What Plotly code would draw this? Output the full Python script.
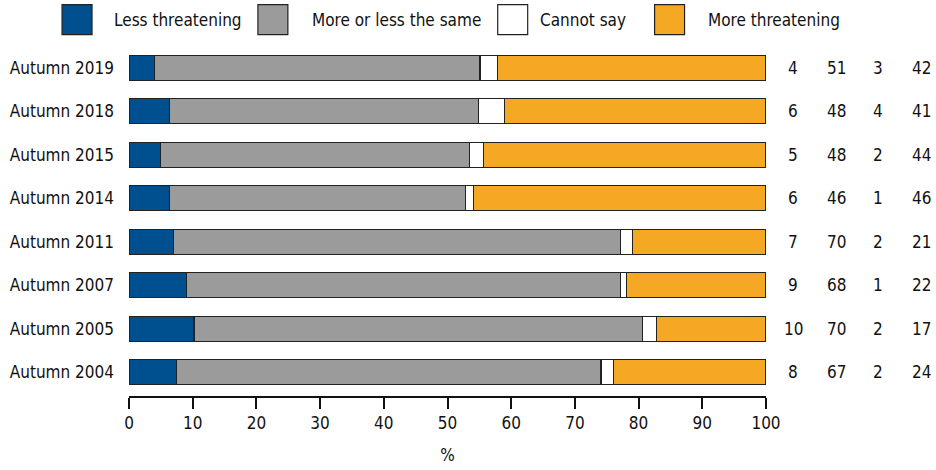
import plotly.graph_objects as go

categories = ["Autumn 2019", "Autumn 2018", "Autumn 2015", "Autumn 2014",
              "Autumn 2011", "Autumn 2007", "Autumn 2005", "Autumn 2004"]
series_names = ["Less threatening", "More or less the same", "Cannot say", "More threatening"]

# bar segment sizes
less_thr = [4.0, 6.4, 4.9, 6.4, 7.0, 9.0, 10.2, 7.5]
same = [51.1, 48.5, 48.5, 46.4, 70.1, 68.1, 70.4, 66.6]
cannot = [2.8, 4.0, 2.3, 1.3, 2.0, 1.0, 2.2, 2.0]
more_thr = [42.1, 41.1, 44.3, 45.9, 20.9, 21.9, 17.2, 23.9]

# printed values at the right
lbl_less = [4, 6, 5, 6, 7, 9, 10, 8]
lbl_same = [51, 48, 48, 46, 70, 68, 70, 67]
lbl_cannot = [3, 4, 2, 1, 2, 1, 2, 2]
lbl_more = [42, 41, 44, 46, 21, 22, 17, 24]

x_ticks = [0, 10, 20, 30, 40, 50, 60, 70, 80, 90, 100]

colors = ["#00508F", "#9B9B9B", "#FFFFFF", "#F5A823"]
FONT = "DejaVu Sans Condensed, sans-serif"
FS = 17

W, H = 936, 470
L, R, T, B = 129, 169.5, 46.3, 74
PW = W - L - R
PH = H - T - B

def px_x(px):
    return (px - L) / PW

def px_y(py):
    return (H - B - py) / PH

fig = go.Figure()
for name, vals, col in zip(series_names, [less_thr, same, cannot, more_thr], colors):
    fig.add_trace(go.Bar(
        y=categories, x=vals, name=name, orientation="h",
        marker=dict(color=col, line=dict(color="#222222", width=1.2)),
        width=0.575, showlegend=False, hoverinfo="skip"))

shapes = []
annotations = []

# right-hand value columns
col_px = [794, 837, 879, 922]
for cx, labels in zip(col_px, [lbl_less, lbl_same, lbl_cannot, lbl_more]):
    for cat, v in zip(categories, labels):
        annotations.append(dict(xref="paper", yref="y", x=px_x(cx), y=cat,
                                text=str(v), showarrow=False,
                                xanchor="center", yanchor="middle",
                                font=dict(family=FONT, size=FS, color="#111111")))

# manual legend
box_left = [62, 258, 498, 655]
text_left = [112, 310, 538, 706]
for name, col, bx, tx in zip(series_names, colors, box_left, text_left):
    shapes.append(dict(type="rect", xref="paper", yref="paper",
                       x0=px_x(bx), x1=px_x(bx + 30), y0=px_y(35), y1=px_y(5),
                       fillcolor=col, line=dict(color="#222222", width=1.2)))
    annotations.append(dict(xref="paper", yref="paper", x=px_x(tx), y=px_y(20),
                            text=name, showarrow=False, xanchor="left", yanchor="middle",
                            font=dict(family=FONT, size=FS, color="#111111")))

fig.update_layout(
    width=W, height=H,
    margin=dict(l=L, r=R, t=T, b=B, pad=0),
    barmode="stack",
    plot_bgcolor="white", paper_bgcolor="white",
    font=dict(family=FONT, size=FS, color="#111111"),
    shapes=shapes, annotations=annotations,
    xaxis=dict(range=[0, 100], tickvals=x_ticks, ticktext=[str(t) for t in x_ticks],
               showgrid=False, zeroline=False, showline=True, linecolor="#111111",
               linewidth=2, ticks="outside", ticklen=11, tickwidth=1.5, tickcolor="#111111",
               title=dict(text="%", standoff=17, font=dict(family=FONT, size=FS)),
               automargin=False, fixedrange=True),
    yaxis=dict(type="category", categoryorder="array", categoryarray=categories,
               range=[7.55, -0.5], showgrid=False, zeroline=False, showline=False,
               ticks="", ticklabelstandoff=14, automargin=False, fixedrange=True),
)

fig.write_html("out.html", config={"displayModeBar": False},
               post_script="document.body.style.margin='0';document.body.style.overflow='hidden';")
